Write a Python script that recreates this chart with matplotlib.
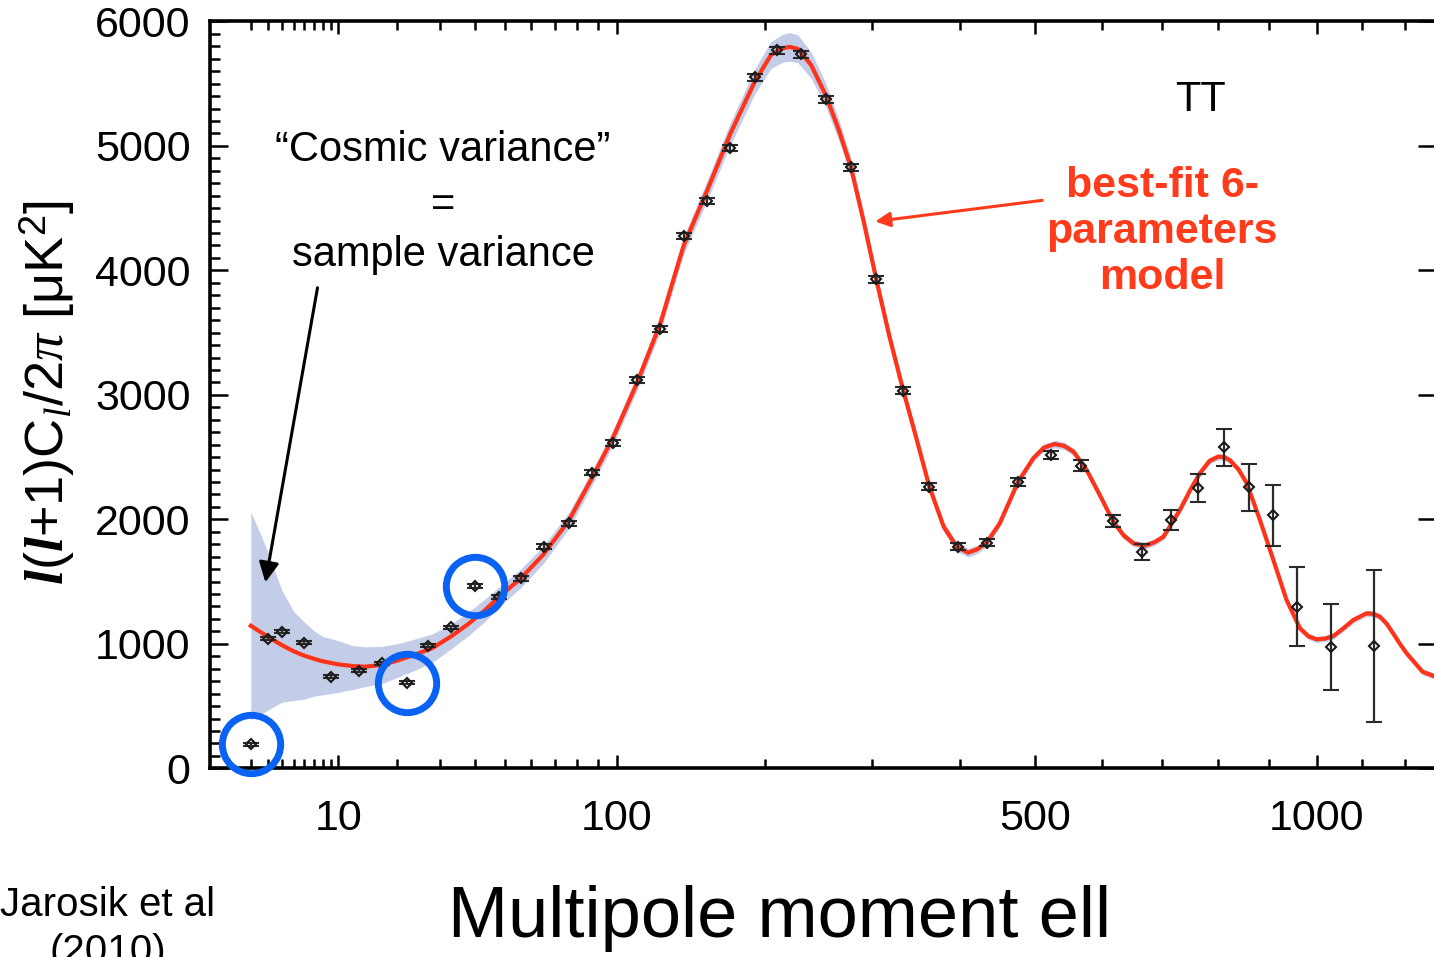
import numpy as np
import matplotlib.pyplot as plt

plt.rcParams['font.family'] = ['Liberation Sans', 'DejaVu Sans']
plt.rcParams['mathtext.fontset'] = 'custom'
plt.rcParams['mathtext.rm'] = 'Liberation Sans'
plt.rcParams['mathtext.it'] = 'Liberation Serif:italic'
plt.rcParams['mathtext.bf'] = 'Liberation Sans:bold'
plt.rcParams['mathtext.bfit'] = 'Liberation Serif:italic:bold'

# binned TT power spectrum
ell = [2, 3, 4, 6, 9, 13, 17, 22, 27, 33, 40, 48, 56, 65, 76, 87, 98, 111, 125,
       140, 156, 173, 192, 210, 231, 254, 278, 304, 333, 363, 397, 434, 476, 522,
       568, 618, 666, 715, 763, 812, 860, 909, 957, 1030, 1127]
cl = [193, 1039, 1097, 1009, 736, 784, 843, 688, 985, 1133, 1464, 1373, 1526,
      1780, 1968, 2374, 2615, 3119, 3526, 4276, 4558, 4982, 5553, 5769, 5737,
      5376, 4830, 3928, 3033, 2262, 1780, 1812, 2302, 2516, 2431, 1986, 1735,
      1994, 2254, 2578, 2257, 2032, 1298, 972, 982]
err = [12, 12, 12, 12, 12, 12, 12, 12, 14, 14, 16, 16, 18, 18, 20, 20, 22, 22, 24,
       25, 26, 27, 28, 28, 28, 28, 28, 28, 28, 28, 28, 30, 32, 35, 43, 51, 63,
       80, 111, 150, 191, 244, 317, 344, 614]

# best-fit model and cosmic-variance band
model_ell = [2, 3, 4, 5, 6, 7, 8, 10, 12, 14, 17, 20, 24, 28, 33, 38, 43, 48,
             56, 65, 76, 87, 98, 111, 125, 140, 156, 173, 192, 205, 215, 221,
             228, 240, 254, 266, 278, 291, 304, 318, 333, 348, 363, 380, 396, 410,
             422, 434, 451, 476, 497, 512, 528, 542, 556, 576, 596, 618, 635, 651,
             670, 686, 702, 731, 750, 767, 785, 801, 812, 823, 840, 856, 882, 909,
             936, 964, 982, 999, 1018, 1036, 1058, 1080, 1110, 1126, 1141, 1157,
             1172, 1188, 1204, 1243, 1276]
model = [1145, 1057, 990, 940, 905, 880, 860, 835, 822, 816, 830, 865, 915, 965,
         1060, 1160, 1265, 1378, 1528, 1720, 1990, 2330, 2660, 3090, 3570, 4200,
         4640, 5100, 5520, 5730, 5785, 5795, 5780, 5650, 5400, 5130, 4830, 4390,
         3928, 3470, 3040, 2650, 2262, 1940, 1780, 1732,
         1760, 1815, 1968, 2302, 2490, 2575, 2605, 2590, 2543, 2396, 2200, 1981,
         1870, 1807, 1788, 1815, 1860, 2075, 2240, 2370, 2470, 2503, 2500, 2476,
         2400, 2289, 1994, 1673, 1352, 1124, 1060, 1036, 1042, 1063, 1125, 1191,
         1245, 1240, 1218, 1160, 1084, 1000, 924, 775, 735]
band_below = [757, 590, 460, 395, 350, 300, 270, 225, 190, 160, 150, 135, 125,
              115, 100, 95, 90, 80, 75, 70, 65, 60, 60, 60, 65, 70, 80, 90, 100,
              108, 112, 115, 112, 105, 95, 85, 75, 68, 60, 55, 50, 47, 45, 40, 36,
              35,
              34, 33, 32, 31, 30, 30, 30, 30, 30, 30, 29, 28, 28, 27, 27, 27, 27,
              26, 26, 26, 26, 26, 26, 26, 26, 26, 25, 25, 25, 25, 25, 25, 25, 25,
              25, 25, 25, 25, 25, 25, 25, 25, 25, 25, 25]
band_above = [916, 683, 442, 320, 270, 225, 200, 190, 165, 160, 150, 135, 125,
              115, 100, 95, 90, 80, 75, 70, 65, 60, 60, 60, 65, 70, 80, 90, 100,
              108, 112, 115, 112, 105, 95, 85, 75, 68, 60, 55, 50, 47, 45, 40, 36,
              35,
              34, 33, 32, 31, 30, 30, 30, 30, 30, 30, 29, 28, 28, 27, 27, 27, 27,
              26, 26, 26, 26, 26, 26, 26, 26, 26, 25, 25, 25, 25, 25, 25, 25, 25,
              25, 25, 25, 25, 25, 25, 25, 25, 25, 25, 25]

highlight = [2, 22, 40]

major_ticks = [10, 100, 500, 1000]
minor_ticks = [2, 3, 4, 5, 6, 7, 8, 9, 20, 30, 40, 50, 60, 70, 80, 90,
               200, 300, 400, 600, 700, 800, 900, 1100, 1200]


def fwd(x):
    return np.power(np.clip(x, 1e-9, None), 0.4)


def inv(x):
    return np.power(np.clip(x, 0, None), 2.5)


W, H = 1434, 957
fig = plt.figure(figsize=(W / 100, H / 100), dpi=100)
ax = fig.add_axes([210 / W, (H - 768.3) / H, (1436 - 210) / W, (768.3 - 21.4) / H])
ax.set_xscale('function', functions=(fwd, inv))

m = np.array(model)
ax.fill_between(model_ell, m - np.array(band_below), m + np.array(band_above),
                color='#c3cde8', lw=0, zorder=1)
ax.plot(model_ell, model, color='#ff3319', lw=3.0, zorder=3)
ax.errorbar(ell, cl, yerr=err, fmt='D', ms=5, mfc='none', mec='#1a1a1a', mew=1.5,
            ecolor='#2a2a2a', elinewidth=1.6, capsize=6, capthick=1.6, zorder=4)

for h in highlight:
    i = ell.index(h)
    ax.plot([ell[i]], [cl[i]], 'o', ms=42, mfc='none', mec='#0a62f5', mew=5,
            clip_on=False, zorder=6)

ax.set_xlim(0.509, 1276)
ax.set_ylim(0, 6000)
ax.set_xticks(major_ticks)
ax.set_xticklabels([str(t) for t in major_ticks])
ax.set_xticks(minor_ticks, minor=True)
ax.set_xticklabels([], minor=True)
ax.set_yticks(range(0, 6001, 1000))
ax.set_yticks(range(0, 6001, 100), minor=True)

for s in ax.spines.values():
    s.set_linewidth(2.6)
ax.tick_params(axis='x', which='both', direction='in', top=True, bottom=True,
               width=1.8, labelsize=31, pad=22)
ax.tick_params(axis='x', which='major', length=9.5)
ax.tick_params(axis='x', which='minor', length=6.5)
ax.tick_params(axis='y', which='both', direction='in', left=True, right=True,
               width=1.8, labelsize=31, pad=14)
ax.tick_params(axis='y', which='major', length=13)
ax.tick_params(axis='y', which='minor', length=7, right=False)

fig.text(47 / W, 1 - 393 / H,
         r'$\mathbfit{l}$($\mathbfit{l}$+1)C$_{l}$/2$\pi$ [μK$^2$]',
         rotation=90, ha='center', va='center', fontsize=39)

fig.text(443 / W, 1 - 150 / H, '\u201cCosmic variance\u201d', ha='center',
         va='center', fontsize=30)
fig.text(443 / W, 1 - 205 / H, '=', ha='center', va='center', fontsize=30)
fig.text(443 / W, 1 - 255 / H, 'sample variance', ha='center', va='center',
         fontsize=30)
fig.text(1200 / W, 1 - 100 / H, 'TT', ha='center', va='center', fontsize=30)
fig.text(1162 / W, 1 - 232 / H, 'best-fit 6-\nparameters\nmodel', ha='center',
         va='center', fontsize=31, fontweight='bold', color='#ff3b1c',
         linespacing=1.2)

ax.annotate('', xy=(2.81, 1472), xycoords='data',
            xytext=(318 / W, 1 - 285 / H), textcoords='figure fraction',
            arrowprops=dict(arrowstyle='-|>', color='black', lw=2.2,
                            mutation_scale=30))
ax.annotate('', xy=(300, 4390), xycoords='data',
            xytext=(1045 / W, 1 - 200 / H), textcoords='figure fraction',
            arrowprops=dict(arrowstyle='-|>', color='#ff3b1c', lw=2.2,
                            mutation_scale=22))

fig.text(780 / W, 1 - 918 / H, 'Multipole moment ell', ha='center', va='center',
         fontsize=52)
fig.text(108 / W, 1 - 905 / H, 'Jarosik et al', ha='center', va='center',
         fontsize=29)
fig.text(108 / W, 1 - 952 / H, '(2010)', ha='center', va='center', fontsize=29)

fig.savefig('out.png', dpi=100)
